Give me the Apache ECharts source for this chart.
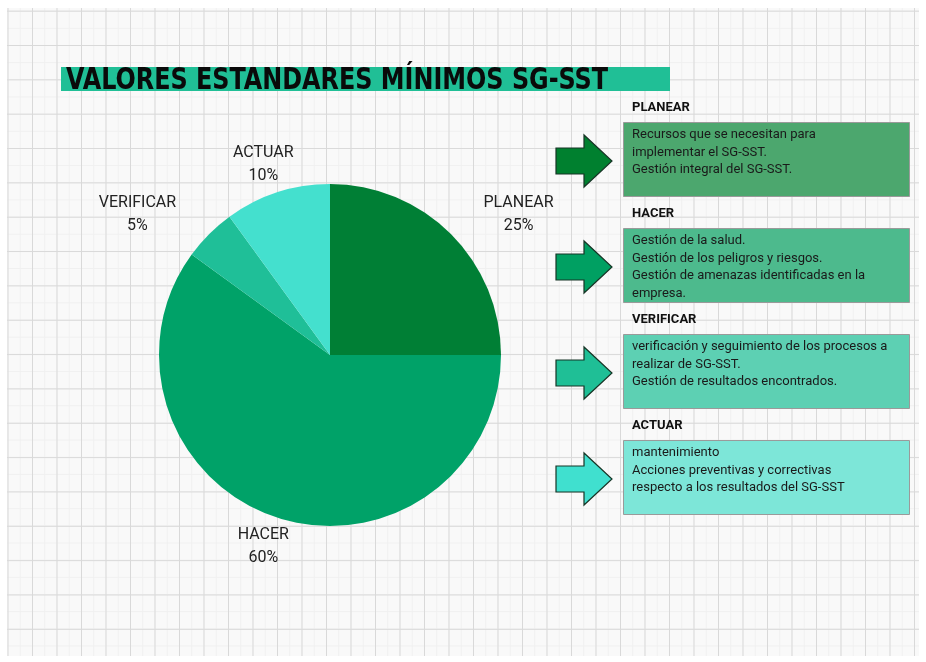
<!DOCTYPE html>
<html>
<head>
<meta charset="utf-8">
<script src="https://cdn.jsdelivr.net/npm/echarts@6/dist/echarts.min.js"></script>
<style>
  html, body { margin: 0; padding: 0; background: #fff; }
  #paper {
    position: absolute; left: 7px; top: 8px; width: 912px; height: 648px;
    background-color: #f9f9f9;
    background-image:
      linear-gradient(to right, #d9d9d9 1px, transparent 1px),
      linear-gradient(to bottom, #d9d9d9 1px, transparent 1px),
      linear-gradient(to right, #f0f0f0 1px, transparent 1px),
      linear-gradient(to bottom, #f0f0f0 1px, transparent 1px);
    background-size: 24.5px 34.35px, 24.5px 34.35px, 12.25px 17.17px, 12.25px 17.17px;
    background-position: 25px 37px, 25px 37px, 25px 37px, 25px 37px;
  }
  #chart { position: absolute; left: 0; top: 0; width: 926px; height: 662px; }
</style>
</head>
<body>
<div id="paper"></div>
<div id="chart"></div>
<script>
"use strict";

// 饼图数据 (顺时针, 从正上方开始)
const STAGES = ["PLANEAR", "HACER", "VERIFICAR", "ACTUAR"];
const SHARES = [25, 60, 5, 10];
const SLICE_COLORS = ["#007f35", "#00a268", "#1fbf98", "#44e0ce"];
// 右侧说明框
const BOX_COLORS = ["#4ca76e", "#4dba8d", "#5dd0b3", "#7de6d8"];
const ARROW_COLORS = ["#00802f", "#00a062", "#1fbf96", "#40e0cf"];
const BOX_LINES = [
  ["Recursos que se necesitan para", "implementar el SG-SST.", "Gestión integral del SG-SST."],
  ["Gestión de la salud.", "Gestión de los peligros y riesgos.",
   "Gestión de amenazas identificadas en la", "empresa."],
  ["verificación y seguimiento de los procesos a", "realizar de SG-SST.",
   "Gestión de resultados encontrados."],
  ["mantenimiento", "Acciones preventivas y correctivas",
   "respecto a los resultados del SG-SST"],
];
const TITLE = "VALORES ESTANDARES MÍNIMOS SG-SST";
// 标签居中后的微调
const LABEL_SHIFT_X = [37, 4, -41, 4];
const LABEL_SHIFT_Y = [3, -2, 3, 3];

const FONT = "Roboto, 'Noto Sans', sans-serif";

// ── 右侧面板 ──
const BOX_TOP = [122, 228, 334, 440];
function panel(i) {
  const top = BOX_TOP[i];
  const cy = top + 39;
  const out = [];
  out.push({ type: "text", left: 632, top: top - 21,
    style: { text: STAGES[i], font: "bold 13px " + FONT, fill: "#111" } });
  out.push({ type: "rect", shape: { x: 623.5, y: top + 0.5, width: 286, height: 74 },
    style: { fill: BOX_COLORS[i], stroke: "#9a9a9a", lineWidth: 1 } });
  out.push({ type: "text", left: 632, top: top + 4,
    style: { text: BOX_LINES[i].join("\n"), font: "13px " + FONT, fill: "#1a1a1a", lineHeight: 17.5 } });
  // 箭头
  out.push({ type: "polygon",
    shape: { points: [[556, cy - 13], [584, cy - 13], [584, cy - 26], [612, cy],
                      [584, cy + 26], [584, cy + 13], [556, cy + 13]] },
    style: { fill: ARROW_COLORS[i], stroke: "#173526", lineWidth: 1.2 } });
  return out;
}

const chart = echarts.init(document.getElementById("chart"));
chart.setOption({
  backgroundColor: "transparent",
  animation: false,
  graphic: [
    { type: "rect", shape: { x: 61, y: 67, width: 609, height: 24 }, style: { fill: "#20bf96" } },
    { type: "text", x: 66, y: 66, scaleX: 0.885,
      style: { text: TITLE, font: "bold 30px 'DejaVu Sans Condensed', 'DejaVu Sans', sans-serif",
               fill: "#0a0a0a" } },
    ...[0, 1, 2, 3].flatMap(panel),
  ],
  series: [{
    type: "pie",
    center: [330, 355],
    radius: 171,
    startAngle: 90,
    clockwise: true,
    silent: true,
    data: STAGES.map((n, i) => ({ name: n, value: SHARES[i], itemStyle: { color: SLICE_COLORS[i] } })),
    label: {
      show: true, position: "outside", formatter: "{b}\n{c}%",
      fontFamily: FONT, fontSize: 16, color: "#222", lineHeight: 23,
    },
    labelLine: { show: false, length: 32, length2: 3 },
    labelLayout: p => ({ dx: LABEL_SHIFT_X[p.dataIndex], dy: LABEL_SHIFT_Y[p.dataIndex], align: "center" }),
  }],
});
</script>
</body>
</html>
